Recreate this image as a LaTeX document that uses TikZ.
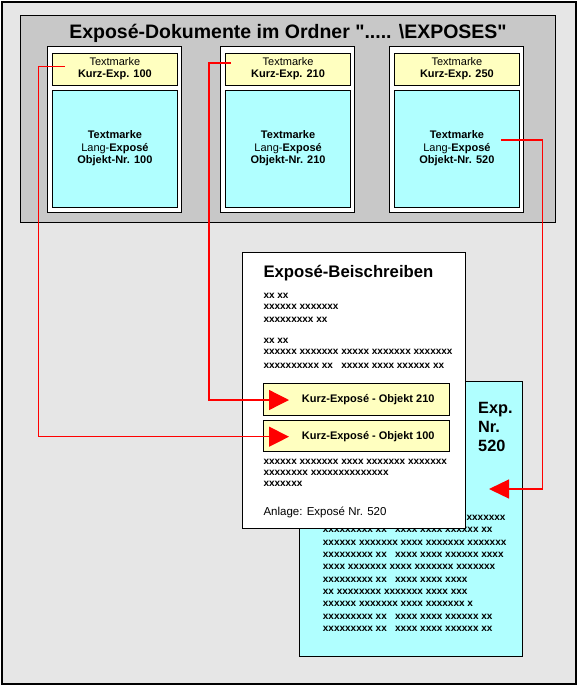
\documentclass[tikz,border=0pt]{standalone}
\usepackage{fontspec}
\setmainfont{Liberation Sans}
\usetikzlibrary{arrows.meta}
\definecolor{bgc}{HTML}{E6E6E6}
\definecolor{panelc}{HTML}{C8C8C8}
\definecolor{yelc}{HTML}{FFFFC0}
\definecolor{cyac}{HTML}{B0FFFF}
\begin{document}
\begin{tikzpicture}[x=1pt,y=-1pt,
  frame/.style={draw=black, line width=1pt, inner sep=0pt},
  cardtxt/.style={font=\fontsize{11}{11.7}\selectfont, align=center, inner sep=0pt},
  langtxt/.style={font=\fontsize{11}{12.2}\selectfont, align=center, inner sep=0pt},
  xline/.style={font=\fontsize{10}{12}\selectfont\bfseries, anchor=base west, inner sep=0pt},
  link/.style={draw=red, line width=1.3pt, -{Triangle[length=20pt,width=20pt]}},
  linkb/.style={draw=red, line width=1.3pt, -{Triangle[length=20pt,width=19pt]}}
]
\useasboundingbox (0,0) rectangle (578,686);
% outer frame
\node[frame, fill=bgc, line width=1.2pt, minimum width=574pt, minimum height=682pt] (outer) at (289,343) {};
% folder panel
\node[frame, fill=panelc, minimum width=535pt, minimum height=207pt] (panel) at (287.5,119) {};
\node[font=\fontsize{19.5}{22}\selectfont\bfseries, anchor=base, inner sep=0pt] (ptitle) at (288,38.5) {Exposé-Dokumente im Ordner \textquotedbl..... \textbackslash EXPOSES\textquotedbl};
% cards
\foreach \i/\cx/\k/\o in {1/114.3/100/100, 2/287.5/210/210, 3/456.3/250/520}{
  \node[frame, fill=white, minimum width=134pt, minimum height=166pt] (card\i) at (\cx,129.7) {};
  \node[frame, fill=yelc, minimum width=125.5pt, minimum height=32.5pt] (kurz\i) at (\cx+0.6,69.5) {};
  \node[cardtxt] (kurzt\i) at (\cx+0.6,68.8) {Textmarke\\\textbf{Kurz-Exp. \k}};
  \node[frame, fill=cyac, minimum width=125.5pt, minimum height=117pt] (lang\i) at (\cx+0.6,148.5) {};
  \node[langtxt] (langt\i) at (\cx+0.6,148.3) {\textbf{Textmarke}\\Lang-\textbf{Exposé}\\\textbf{Objekt-Nr. \o}};
}
% cyan attachment document
\node[frame, fill=cyac, minimum width=223.2pt, minimum height=275pt] (expdoc) at (410.9,518.5) {};
\node[font=\fontsize{16.3}{18}\selectfont\bfseries, anchor=base west, inner sep=0pt] (e1) at (478,413.8) {Exp.};
\node[font=\fontsize{16.3}{18}\selectfont\bfseries, anchor=base west, inner sep=0pt] (e2) at (478,432.6) {Nr.};
\node[font=\fontsize{16.3}{18}\selectfont\bfseries, anchor=base west, inner sep=0pt] (e3) at (478,451) {520};
\node[xline] (c1) at (466.4,520.3) {xxxxxxx};
\foreach \t [count=\n from 2] in {
  xxxxxxxxx xx\ \ \ xxxx xxxx xxxxxx xx,
  xxxxxx xxxxxxx xxxx xxxxxxx xxxxxxx,
  xxxxxxxxx xx\ \ \ xxxx xxxx xxxxxx xxxx,
  xxxx xxxxxxx xxxx xxxxxxx xxxxxxx,
  xxxxxxxxx xx\ \ \ xxxx xxxx xxxx,
  xx xxxxxxxx xxxxxxx xxxx xxx,
  xxxxxx xxxxxxx xxxx xxxxxxx x,
  xxxxxxxxx xx\ \ \ xxxx xxxx xxxxxx xx,
  xxxxxxxxx xx\ \ \ xxxx xxxx xxxxxx xx}{
  \node[xline] (c\n) at (322.7,{520.3+12.37*(\n-1)}) {\t};
}
% white cover document
\node[frame, fill=white, minimum width=223.2pt, minimum height=276pt] (beidoc) at (353.9,390.3) {};
\node[font=\fontsize{16.7}{19}\selectfont\bfseries, anchor=base west, inner sep=0pt] (btitle) at (263.3,277.7) {Exposé-Beischreiben};
\node[xline] (w1) at (263.3,298.3) {xx xx};
\node[xline] (w2) at (263.3,309.9) {xxxxxx xxxxxxx};
\node[xline] (w3) at (263.3,322.6) {xxxxxxxxx xx};
\node[xline] (w4) at (263.3,343.3) {xx xx};
\node[xline] (w5) at (263.3,354.9) {xxxxxx xxxxxxx xxxxx xxxxxxx xxxxxxx};
\node[xline] (w6) at (263.3,368.3) {xxxxxxxxxx xx\ \ \ xxxxx xxxx xxxxxx xx};
\node[frame, fill=yelc, minimum width=186.4pt, minimum height=32pt] (k210) at (356.5,399.3) {};
\node[font=\fontsize{11}{13}\selectfont\bfseries, anchor=west, inner sep=0pt] (k210t) at (301.7,400) {Kurz-Exposé - Objekt 210};
\node[frame, fill=yelc, minimum width=186.4pt, minimum height=30.7pt] (k100) at (356.5,435.7) {};
\node[font=\fontsize{11}{13}\selectfont\bfseries, anchor=west, inner sep=0pt] (k100t) at (301.7,436.4) {Kurz-Exposé - Objekt 100};
\node[xline] (w7) at (263.3,464.3) {xxxxxx xxxxxxx xxxx xxxxxxx xxxxxxx};
\node[xline] (w8) at (263.3,475.9) {xxxxxxxx xxxxxxxxxxxxxx};
\node[xline] (w9) at (263.3,486.9) {xxxxxxx};
\node[font=\fontsize{11.5}{13}\selectfont, anchor=base west, inner sep=0pt] (anl) at (263.3,515.5) {Anlage: Exposé Nr. 520};
% red links
\coordinate (s100) at (64.5,66.7);
\coordinate (c100) at (38.7,66.7);
\coordinate (tip100) at (289,436.7);
\coordinate (s210) at (231,63);
\coordinate (c210) at (209,63);
\coordinate (tip210) at (289,400);
\coordinate (s520) at (501,140);
\coordinate (c520) at (542.6,140);
\coordinate (tip520) at (489,489);
\draw[link] (s100) -- (c100) |- (tip100);
\draw[link] (s210) -- (c210) |- (tip210);
\draw[linkb] (s520) -- (c520) |- (tip520);
\end{tikzpicture}
\end{document}
